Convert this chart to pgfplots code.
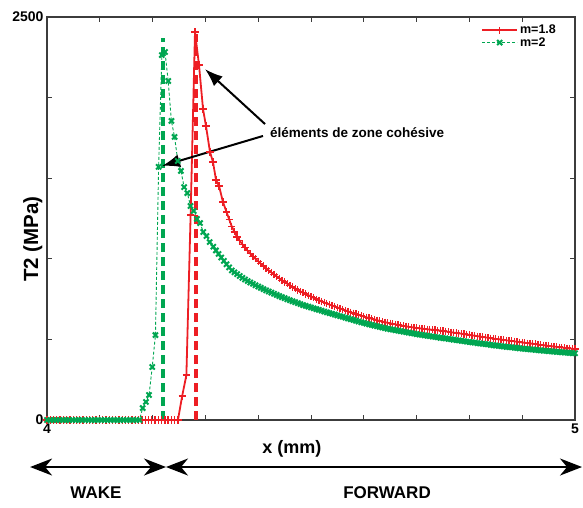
\documentclass[border=0pt]{standalone}
\usepackage{pgfplots}
\pgfplotsset{compat=1.18}
\usepackage{fontspec}
\setmainfont{Liberation Sans}
\usetikzlibrary{arrows.meta}

\definecolor{mred}{RGB}{237,30,36}
\definecolor{mgreen}{RGB}{0,166,81}
\definecolor{frame}{RGB}{60,60,60}

\begin{document}
\begin{tikzpicture}
\begin{axis}[
    scale only axis,
    width=528pt, height=403pt,
    xmin=4, xmax=5, ymin=0, ymax=2500,
    xtick={4,4.1,4.2,4.3,4.4,4.5,4.6,4.7,4.8,4.9,5},
    xticklabels={4,,,,,,,,,,5},
    ytick={0,500,1000,1500,2000,2500},
    yticklabels={0,,,,,2500},
    /pgf/number format/assume math mode=true,
    tick align=inside,
    major tick length=5pt,
    axis line style={frame, line width=1.4pt},
    every tick/.style={frame, line width=1pt},
    tick label style={font=\fontsize{14}{14}\selectfont\bfseries},
    xlabel={x (mm)},
    ylabel={T2 (MPa)},
    every axis x label/.style={at={(axis description cs:0.464,-0.072)}, anchor=center,
        font=\fontsize{18}{18}\selectfont\bfseries},
    every axis y label/.style={at={(axis description cs:-0.027,0.449)}, rotate=90, anchor=center,
        font=\fontsize{20.5}{20.5}\selectfont\bfseries},
    legend style={draw=none, fill=none, at={(rel axis cs:0.968,0.985)}, anchor=north east,
        font=\fontsize{12.5}{13}\selectfont\bfseries, row sep=-2pt, inner sep=0pt},
    legend cell align=left,
    legend image code/.code={\draw[mark repeat=2,mark phase=2] plot coordinates {(0pt,0pt) (17.5pt,0pt) (35pt,0pt)};},
    clip=false,
]

% m=1.8
\addplot[mred, line width=1.8pt, mark=+, mark size=3.6pt, mark options={line width=1.3pt, solid}] coordinates {
(4.0000,0) (4.0062,0) (4.0124,0) (4.0186,0) (4.0248,0) (4.0310,0) (4.0372,0) (4.0434,0) (4.0496,0) (4.0558,0)
(4.0620,0) (4.0682,0) (4.0744,0) (4.0806,0) (4.0868,0) (4.0930,0) (4.0992,0) (4.1054,0) (4.1116,0) (4.1178,0)
(4.1240,0) (4.1302,0) (4.1364,0) (4.1426,0) (4.1488,0) (4.1550,0) (4.1612,0) (4.1674,0) (4.1736,0) (4.1798,0)
(4.1860,0) (4.1922,0) (4.1984,0) (4.2046,0) (4.2108,0) (4.2170,0) (4.2232,0) (4.2294,0) (4.2356,0) (4.2418,0)
(4.2480,0)
(4.2560,149) (4.2640,279) (4.2720,1272) (4.2803,2407) (4.2879,2202) (4.2955,1929) (4.3011,1824)
(4.3087,1663) (4.3144,1600) (4.3201,1489) (4.3258,1452) (4.3333,1352)
(4.340,1290) (4.345,1245) (4.350,1200) (4.355,1167) (4.360,1135) (4.365,1112) (4.370,1090) (4.375,1070)
(4.380,1050) (4.385,1032) (4.390,1015) (4.395,1000) (4.400,985) (4.405,970) (4.410,955) (4.415,941)
(4.420,928) (4.425,915) (4.430,903) (4.435,891) (4.440,879) (4.445,867) (4.450,856) (4.455,845)
(4.460,835) (4.465,825) (4.470,816) (4.475,807) (4.480,798) (4.485,790) (4.490,782) (4.495,774)
(4.500,766) (4.505,758) (4.510,750) (4.515,743) (4.520,736) (4.525,729) (4.530,722) (4.535,716)
(4.540,710) (4.545,704) (4.550,698) (4.555,692) (4.560,686) (4.565,680) (4.570,674) (4.575,668)
(4.580,663) (4.585,657) (4.590,652) (4.595,647) (4.600,642) (4.605,637) (4.610,633) (4.615,628)
(4.620,624) (4.625,619) (4.630,615) (4.635,611) (4.640,607) (4.645,603) (4.650,600) (4.655,596)
(4.660,593) (4.665,590) (4.670,587) (4.675,584) (4.680,581) (4.685,578) (4.690,576) (4.695,573)
(4.700,571) (4.705,569) (4.710,567) (4.715,565) (4.720,563) (4.725,561) (4.730,560) (4.735,558)
(4.740,556) (4.745,554) (4.750,552) (4.755,550) (4.760,547) (4.765,545) (4.770,542) (4.775,540)
(4.780,538) (4.785,535) (4.790,533) (4.795,530) (4.800,528) (4.805,525) (4.810,523) (4.815,520)
(4.820,518) (4.825,515) (4.830,513) (4.835,510) (4.840,508) (4.845,505) (4.850,503) (4.855,501)
(4.860,499) (4.865,496) (4.870,494) (4.875,492) (4.880,490) (4.885,488) (4.890,485) (4.895,483)
(4.900,481) (4.905,479) (4.910,477) (4.915,475) (4.920,473) (4.925,471) (4.930,468) (4.935,466)
(4.940,464) (4.945,462) (4.950,460) (4.955,458) (4.960,456) (4.965,454) (4.970,452) (4.975,450)
(4.980,448) (4.985,446) (4.990,444) (4.995,442) (5.000,440)
};
\addlegendentry{m=1.8}

% m=2
\addplot[mgreen, line width=0.9pt, dash pattern=on 3pt off 2pt, mark=x, mark size=3.6pt, mark options={line width=2pt, solid}] coordinates {
(4.0000,0) (4.0060,0) (4.0121,0) (4.0181,0) (4.0242,0) (4.0302,0) (4.0362,0) (4.0423,0) (4.0483,0) (4.0544,0)
(4.0604,0) (4.0664,0) (4.0725,0) (4.0785,0) (4.0846,0) (4.0906,0) (4.0966,0) (4.1027,0) (4.1087,0) (4.1148,0)
(4.1208,0) (4.1268,0) (4.1329,0) (4.1389,0) (4.1450,0) (4.1510,0) (4.1570,0) (4.1631,0) (4.1691,0) (4.1752,0)
(4.1812,74) (4.1873,112) (4.1933,155) (4.1993,329) (4.2054,527) (4.2114,1570) (4.2175,2264) (4.2235,2283)
(4.2295,2103) (4.2356,1855) (4.2416,1756) (4.2477,1607) (4.2537,1545) (4.2597,1445) (4.2658,1408) (4.2718,1328)
(4.2779,1297) (4.2839,1247) (4.2899,1222) (4.2960,1166) (4.3020,1141) (4.3081,1104)
(4.315,1075) (4.320,1052) (4.325,1030) (4.330,1008) (4.335,987) (4.340,966) (4.345,947) (4.350,928)
(4.355,916) (4.360,905) (4.365,893) (4.370,882) (4.375,872) (4.380,862) (4.385,853) (4.390,845)
(4.395,836) (4.400,828) (4.405,820) (4.410,812) (4.415,804) (4.420,797) (4.425,790) (4.430,783)
(4.435,776) (4.440,769) (4.445,762) (4.450,756) (4.455,749) (4.460,743) (4.465,737) (4.470,731)
(4.475,725) (4.480,719) (4.485,713) (4.490,708) (4.495,703) (4.500,698) (4.505,693) (4.510,688)
(4.515,683) (4.520,678) (4.525,673) (4.530,668) (4.535,663) (4.540,659) (4.545,654) (4.550,649)
(4.555,644) (4.560,640) (4.565,635) (4.570,630) (4.575,625) (4.580,621) (4.585,616) (4.590,611)
(4.595,606) (4.600,602) (4.605,598) (4.610,594) (4.615,590) (4.620,586) (4.625,582) (4.630,578)
(4.635,574) (4.640,570) (4.645,566) (4.650,563) (4.655,560) (4.660,557) (4.665,554) (4.670,551)
(4.675,548) (4.680,545) (4.685,542) (4.690,539) (4.695,536) (4.700,533) (4.705,530) (4.710,528)
(4.715,525) (4.720,523) (4.725,520) (4.730,518) (4.735,515) (4.740,513) (4.745,510) (4.750,508)
(4.755,506) (4.760,503) (4.765,501) (4.770,498) (4.775,496) (4.780,494) (4.785,491) (4.790,489)
(4.795,486) (4.800,484) (4.805,482) (4.810,480) (4.815,477) (4.820,475) (4.825,473) (4.830,471)
(4.835,469) (4.840,466) (4.845,464) (4.850,462) (4.855,460) (4.860,458) (4.865,456) (4.870,454)
(4.875,452) (4.880,451) (4.885,449) (4.890,447) (4.895,445) (4.900,443) (4.905,441) (4.910,440)
(4.915,438) (4.920,437) (4.925,435) (4.930,433) (4.935,432) (4.940,430) (4.945,429) (4.950,427)
(4.955,426) (4.960,424) (4.965,423) (4.970,422) (4.975,420) (4.980,419) (4.985,418) (4.990,416)
(4.995,415) (5.000,414)
};
\addlegendentry{m=2}

% cohesive zone element positions
\addplot[mred, line width=4pt, dash pattern=on 9pt off 5pt, forget plot] coordinates {(4.2830,0) (4.2830,2395)};
\addplot[mgreen, line width=4pt, dash pattern=on 9pt off 5pt, forget plot] coordinates {(4.2206,0) (4.2206,2370)};

% annotation
\draw[black, line width=2pt, -{Latex[length=18pt,width=13pt]}] (axis cs:4.4129,1836) -- (axis cs:4.2992,2177);
\draw[black, line width=2pt, -{Latex[length=18pt,width=13pt]}] (axis cs:4.4091,1762) -- (axis cs:4.2178,1576);
\node[anchor=west, inner sep=0pt, font=\fontsize{13.5}{14}\selectfont\bfseries] at (axis cs:4.4223,1780) {éléments de zone cohésive};

% wake / forward
\draw[black, line width=2pt, {Stealth[length=22pt,width=17pt,inset=7pt]}-{Stealth[length=22pt,width=17pt,inset=7pt]}]
    (axis cs:3.968,-291.6) -- (axis cs:4.2254,-291.6);
\draw[black, line width=2pt, {Stealth[length=22pt,width=17pt,inset=7pt]}-{Stealth[length=22pt,width=17pt,inset=7pt]}]
    (axis cs:4.2254,-291.6) -- (axis cs:5.0133,-291.6);
\node[font=\fontsize{17}{17}\selectfont\bfseries] at (axis cs:4.0928,-453) {WAKE};
\node[font=\fontsize{17}{17}\selectfont\bfseries] at (axis cs:4.644,-453) {FORWARD};
\end{axis}
\pgfresetboundingbox
\path ([xshift=-47pt,yshift=-87pt]current axis.south west) rectangle ([xshift=8pt,yshift=17pt]current axis.north east);
\end{tikzpicture}
\end{document}
